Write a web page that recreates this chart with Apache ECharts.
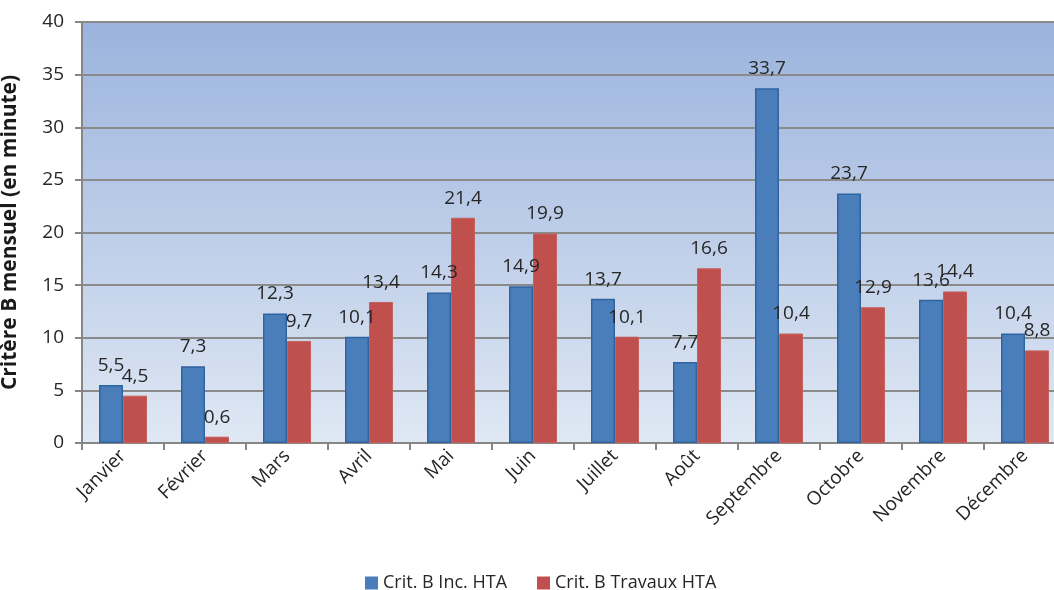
<!DOCTYPE html>
<html>
<head>
<meta charset="utf-8">
<script src="https://cdn.jsdelivr.net/npm/echarts@6/dist/echarts.min.js"></script>
<style>
  html, body { margin: 0; padding: 0; background: #ffffff; }
  #chart { width: 1054px; height: 590px; }
</style>
</head>
<body>
<div id="chart"></div>
<script>
// Monthly B criterion (minutes) for HTA network
const months = ['Janvier', 'Février', 'Mars', 'Avril', 'Mai', 'Juin', 'Juillet', 'Août', 'Septembre', 'Octobre', 'Novembre', 'Décembre'];
const incidents = [5.5, 7.3, 12.3, 10.1, 14.3, 14.9, 13.7, 7.7, 33.7, 23.7, 13.6, 10.4];
const travaux = [4.5, 0.6, 9.7, 13.4, 21.4, 19.9, 10.1, 16.6, 10.4, 12.9, 14.4, 8.8];
const seriesNames = ['Crit. B Inc. HTA', 'Crit. B Travaux HTA'];

const font = '"Open Sans", sans-serif';
const fmt = p => String(p.value).replace('.', ',');

const chart = echarts.init(document.getElementById('chart'), null, { renderer: 'canvas' });

const labelStyle = {
  show: true,
  position: 'top',
  distance: 10,
  formatter: fmt,
  fontFamily: font,
  fontSize: 19,
  color: '#262626'
};

chart.setOption({
  animation: false,
  textStyle: { fontFamily: font },
  grid: {
    left: 82,
    top: 22,
    width: 984,
    bottom: 147,
    outerBoundsMode: 'none',
    containLabel: false,
    show: true,
    borderWidth: 0,
    backgroundColor: {
      type: 'linear', x: 0, y: 0, x2: 0, y2: 1,
      colorStops: [
        { offset: 0, color: '#9bb3dd' },
        { offset: 1, color: '#dfe8f4' }
      ]
    }
  },
  legend: {
    top: 569,
    left: 360,
    itemWidth: 13,
    itemHeight: 13,
    itemGap: 30,
    itemStyle: { borderWidth: 0 },
    icon: 'rect',
    textStyle: { fontFamily: font, fontSize: 18, color: '#262626' },
    data: seriesNames
  },
  xAxis: {
    type: 'category',
    data: months,
    axisLine: { lineStyle: { color: '#868686', width: 2 } },
    axisTick: { show: true, length: 7, lineStyle: { color: '#868686', width: 2 } },
    axisLabel: {
      rotate: 45,
      interval: 0,
      margin: 10,
      fontFamily: font,
      fontSize: 19,
      color: '#262626'
    }
  },
  yAxis: {
    type: 'value',
    min: 0,
    max: 40,
    interval: 5,
    name: 'Critère B mensuel (en minute)',
    nameLocation: 'middle',
    nameGap: 61,
    nameTextStyle: { fontFamily: font, fontSize: 21, fontWeight: 'bold', color: '#1a1a1a' },
    axisLine: { show: true, lineStyle: { color: '#868686', width: 2 } },
    axisTick: { show: true, length: 7, lineStyle: { color: '#868686', width: 2 } },
    axisLabel: { margin: 18, fontFamily: font, fontSize: 19, color: '#262626' },
    splitLine: { show: true, lineStyle: { color: '#8a8a8a', width: 2 } }
  },
  series: [
    {
      name: seriesNames[0],
      type: 'bar',
      data: incidents,
      barWidth: 24,
      barGap: '0%',
      itemStyle: { color: '#4a7ebb', borderColor: '#2f64a0', borderWidth: 1.5 },
      label: labelStyle
    },
    {
      name: seriesNames[1],
      type: 'bar',
      data: travaux,
      barWidth: 24,
      itemStyle: { color: '#c0504d', borderColor: '#c5605d', borderWidth: 1 },
      label: labelStyle
    }
  ]
});
</script>
</body>
</html>
